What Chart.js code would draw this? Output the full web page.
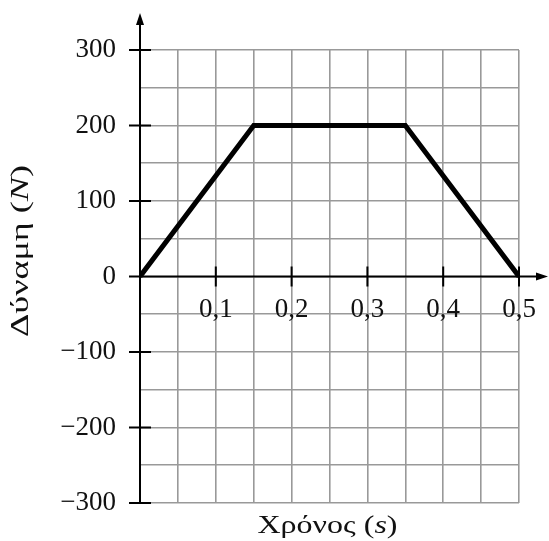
<!DOCTYPE html>
<html>
<head>
<meta charset="utf-8">
<script src="https://cdn.jsdelivr.net/npm/chart.js@4.4.1/dist/chart.umd.min.js"></script>
<style>
  body { margin: 0; background: #fff; }
  #wrap { width: 549px; height: 541px; }
</style>
</head>
<body>
<div id="wrap"><canvas id="forceChart" width="549" height="541"></canvas></div>
<script>
// force vs time (trapezoid)
const times = [0, 0.15, 0.35, 0.5];
const forces = [0, 200, 200, 0];
const xTicks = [0.1, 0.2, 0.3, 0.4, 0.5];
const yTicks = [-300, -200, -100, 0, 100, 200, 300];
const xTitle = ['Χρόνος (', 's', ')'];
const yTitle = ['Δύναμη (', 'N', ')'];

const FONT = "'Liberation Serif', serif";
const INK = '#111';

// draws normal / italic / normal pieces centred on 0, stretched to a given width
function drawTitle(ctx, parts, size, targetWidth) {
  const fonts = [size + 'px ' + FONT, 'italic ' + size + 'px ' + FONT, size + 'px ' + FONT];
  const widths = parts.map((p, i) => { ctx.font = fonts[i]; return ctx.measureText(p).width; });
  const total = widths.reduce((a, b) => a + b, 0);
  ctx.scale(targetWidth / total, 1);
  let cx = -total / 2;
  parts.forEach((p, i) => {
    ctx.font = fonts[i];
    ctx.fillText(p, cx, 0);
    cx += widths[i];
  });
}

const axesPlugin = {
  id: 'axes',
  beforeDatasetsDraw(chart) {
    const { ctx, chartArea } = chart;
    const x = chart.scales.x, y = chart.scales.y;
    const x0 = x.getPixelForValue(0), y0 = y.getPixelForValue(0);
    ctx.save();
    ctx.strokeStyle = '#000';
    ctx.fillStyle = '#000';
    ctx.lineWidth = 2;
    ctx.beginPath();
    ctx.moveTo(x0, chartArea.bottom);
    ctx.lineTo(x0, chartArea.top - 30);
    ctx.moveTo(x0, y0);
    ctx.lineTo(chartArea.right + 22, y0);
    yTicks.forEach(v => {
      const p = y.getPixelForValue(v);
      ctx.moveTo(x0 - 11, p);
      ctx.lineTo(x0 + 11, p);
    });
    xTicks.forEach(v => {
      const p = x.getPixelForValue(v);
      ctx.moveTo(p, y0 - 10);
      ctx.lineTo(p, y0 + 10);
    });
    ctx.stroke();
    // arrow heads
    const topY = chartArea.top - 37, rightX = chartArea.right + 29;
    ctx.beginPath();
    ctx.moveTo(x0, topY);
    ctx.lineTo(x0 - 4, topY + 12);
    ctx.lineTo(x0 + 4, topY + 12);
    ctx.closePath();
    ctx.fill();
    ctx.beginPath();
    ctx.moveTo(rightX, y0);
    ctx.lineTo(rightX - 12, y0 - 4);
    ctx.lineTo(rightX - 12, y0 + 4);
    ctx.closePath();
    ctx.fill();
    ctx.restore();
  },
  afterDraw(chart) {
    const { ctx, chartArea } = chart;
    ctx.save();
    ctx.fillStyle = INK;
    ctx.textBaseline = 'alphabetic';
    ctx.save();
    ctx.translate((chartArea.left + chartArea.right) / 2 - 2, 533);
    drawTitle(ctx, xTitle, 26, 140);
    ctx.restore();
    ctx.save();
    ctx.translate(28, 251);
    ctx.rotate(-Math.PI / 2);
    drawTitle(ctx, yTitle, 26, 172);
    ctx.restore();
    ctx.restore();
  }
};

new Chart('forceChart', {
  type: 'scatter',
  data: {
    datasets: [{
      data: times.map((t, i) => ({ x: t, y: forces[i] })),
      showLine: true,
      borderColor: '#000',
      borderWidth: 5,
      pointRadius: 0,
      borderJoinStyle: 'miter',
      tension: 0
    }]
  },
  options: {
    responsive: false,
    devicePixelRatio: 1,
    animation: false,
    layout: { padding: { left: 0, right: 30, top: 50, bottom: 38 } },
    plugins: { legend: { display: false }, tooltip: { enabled: false } },
    scales: {
      x: {
        type: 'linear',
        position: { y: 0 },
        min: 0,
        max: 0.5,
        afterFit: s => { s.paddingLeft = 0; s.paddingRight = 0; },
        border: { display: false },
        grid: { color: '#999', lineWidth: 1.6, drawTicks: false },
        ticks: {
          stepSize: 0.05,
          autoSkip: false,
          maxRotation: 0,
          padding: 17,
          color: INK,
          font: { family: FONT, size: 27 },
          callback: v => {
            const k = Math.round(v * 100);
            if (k > 0 && k % 10 === 0 && xTicks.includes(k / 100)) return (k / 100).toFixed(1).replace('.', ',');
            return '';
          }
        }
      },
      y: {
        min: -300,
        max: 300,
        border: { display: false },
        afterFit: s => { s.width = 140; s.paddingTop = 0; s.paddingBottom = 0; },
        grid: { color: '#999', lineWidth: 1.6, drawTicks: false },
        ticks: {
          stepSize: 50,
          autoSkip: false,
          padding: 24,
          color: INK,
          font: { family: FONT, size: 27 },
          callback: v => yTicks.includes(v) ? String(v).replace('-', '\u2212') : ''
        }
      }
    }
  },
  plugins: [axesPlugin]
});
</script>
</body>
</html>
